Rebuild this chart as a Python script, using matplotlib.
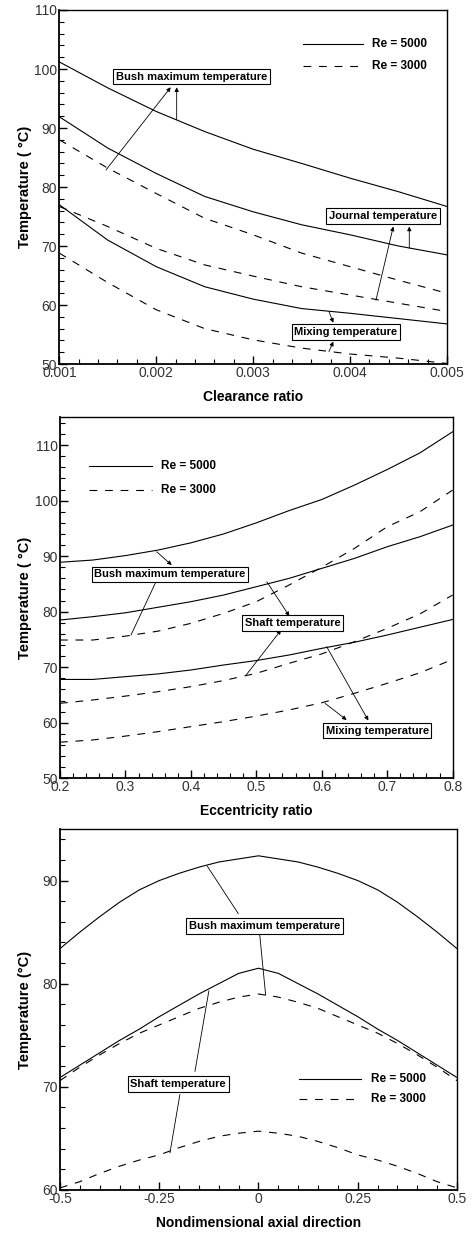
import numpy as np
import matplotlib
matplotlib.use("Agg")
import matplotlib.pyplot as plt
from matplotlib.ticker import MultipleLocator, FormatStrFormatter

# initial settings
plt.rcParams['font.family'] = ['Liberation Sans', 'DejaVu Sans']
plt.rcParams['axes.linewidth'] = 1.0

#---------------------------------------------------------------------------------------------------
# panel 1 : clearance ratio
c_ratio = [0.001, 0.0015, 0.002, 0.0025, 0.003, 0.0035, 0.004, 0.0045, 0.005]
c_bush_5000 = [101.2, 96.8, 92.8, 89.4, 86.4, 84.0, 81.5, 79.2, 76.7]
c_bush_3000 = [88.0, 83.2, 78.9, 74.7, 71.9, 68.8, 66.5, 64.2, 62.0]
c_journal_5000 = [91.9, 86.6, 82.3, 78.4, 75.8, 73.6, 71.9, 70.0, 68.5]
c_journal_3000 = [76.7, 73.3, 69.6, 66.8, 64.9, 63.1, 61.7, 60.3, 58.9]
c_mix_5000 = [77.0, 71.0, 66.5, 63.1, 61.0, 59.4, 58.6, 57.7, 56.8]
c_mix_3000 = [68.8, 63.8, 59.2, 56.0, 54.1, 52.7, 51.7, 51.0, 50.1]

# panel 2 : eccentricity ratio
e_ratio = [0.2, 0.25, 0.3, 0.35, 0.4, 0.45, 0.5, 0.55, 0.6, 0.65, 0.7, 0.75, 0.8]
e_bush_5000 = [88.9, 89.3, 90.1, 91.1, 92.4, 94.0, 96.0, 98.2, 100.2, 102.8, 105.6, 108.6, 112.4]
e_bush_3000 = [74.9, 74.9, 75.6, 76.5, 77.9, 79.7, 81.8, 84.8, 88.0, 91.4, 95.3, 98.0, 101.9]
e_shaft_5000 = [78.5, 79.1, 79.8, 80.8, 81.8, 83.0, 84.5, 86.0, 87.8, 89.6, 91.7, 93.5, 95.6]
e_shaft_3000 = [63.5, 64.1, 64.8, 65.6, 66.5, 67.6, 68.9, 70.7, 72.4, 74.6, 77.0, 79.6, 83.0]
e_mix_5000 = [67.8, 67.8, 68.3, 68.8, 69.5, 70.4, 71.2, 72.2, 73.4, 74.5, 75.8, 77.2, 78.6]
e_mix_3000 = [56.5, 56.9, 57.6, 58.4, 59.3, 60.2, 61.2, 62.3, 63.6, 65.3, 67.1, 69.0, 71.4]

# panel 3 : axial direction
z_axial = [-0.5, -0.45, -0.4, -0.35, -0.3, -0.25, -0.2, -0.15, -0.1, -0.05, 0.0,
           0.05, 0.1, 0.15, 0.2, 0.25, 0.3, 0.35, 0.4, 0.45, 0.5]
z_bush_5000 = [83.4, 85.0, 86.5, 87.9, 89.1, 90.0, 90.7, 91.3, 91.8, 92.1, 92.4,
               92.1, 91.8, 91.3, 90.7, 90.0, 89.1, 87.9, 86.5, 85.0, 83.4]
z_bush_3000 = [70.6, 71.9, 73.1, 74.2, 75.2, 76.0, 76.8, 77.6, 78.2, 78.7, 79.0,
               78.7, 78.2, 77.6, 76.8, 76.0, 75.2, 74.2, 73.1, 71.9, 70.6]
z_shaft_5000 = [70.9, 72.1, 73.3, 74.5, 75.6, 76.8, 77.9, 79.0, 80.0, 81.0, 81.5,
                81.0, 80.0, 79.0, 77.9, 76.8, 75.6, 74.5, 73.3, 72.1, 70.9]
z_shaft_3000 = [60.2, 60.8, 61.6, 62.3, 62.9, 63.4, 64.1, 64.7, 65.2, 65.5, 65.7,
                65.5, 65.2, 64.7, 64.1, 63.4, 62.9, 62.3, 61.6, 60.8, 60.2]

# label boxes: (text, x, y) and leader lines: (x_line, y_line, x_box, y_box)
c_labels = [("Bush maximum temperature", 0.002365, 98.7),
            ("Journal temperature", 0.004343, 75.1),
            ("Mixing temperature", 0.003958, 55.4)]
c_leaders = [(0.002211, 91.4, 0.002211, 96.9), (0.001482, 82.9, 0.002149, 96.9),
             (0.004611, 69.6, 0.004611, 73.3), (0.004267, 60.8, 0.004446, 73.3),
             (0.003782, 58.9, 0.003827, 57.0), (0.003782, 52.1, 0.003827, 53.8)]
e_labels = [("Bush maximum temperature", 0.368, 86.7),
            ("Shaft temperature", 0.5556, 78.0),
            ("Mixing temperature", 0.6845, 58.6)]
e_leaders = [(0.3477, 90.8, 0.3707, 88.4), (0.3085, 75.8, 0.3503, 86.3),
             (0.516, 85.4, 0.5505, 79.2), (0.4838, 68.5, 0.5378, 76.7),
             (0.6075, 73.7, 0.6712, 60.4), (0.605, 63.5, 0.638, 60.5)]
z_labels = [("Bush maximum temperature", 0.016, 85.6),
            ("Shaft temperature", -0.202, 70.3)]
z_leaders = [(-0.129, 91.4, -0.051, 86.8), (0.018, 78.9, 0.003, 84.8),
             (-0.125, 79.3, -0.160, 71.5), (-0.223, 63.6, -0.198, 69.25)]

# legend positions: x start, x end, y solid, y dashed
c_legend = (0.003518, 0.00413, 104.2, 100.5)
e_legend = (0.245, 0.340, 106.2, 101.9)
z_legend = (0.102, 0.259, 70.8, 68.8)

#---------------------------------------------------------------------------------------------------
W, H = 473, 1234
solid = dict(color='k', lw=0.8)
dashed = dict(color='k', lw=0.8, linestyle=(0, (7, 7)))
box = dict(boxstyle='square,pad=0.25', fc='white', ec='k', lw=0.8)


def style_axis(ax, rect, xlabel, ylabel, xmaj, xmin, ymaj, ymin, xfmt):
    ax.xaxis.set_major_locator(MultipleLocator(xmaj))
    ax.xaxis.set_minor_locator(MultipleLocator(xmin))
    ax.yaxis.set_major_locator(MultipleLocator(ymaj))
    ax.yaxis.set_minor_locator(MultipleLocator(ymin))
    ax.xaxis.set_major_formatter(FormatStrFormatter(xfmt))
    ax.tick_params(which='both', direction='in', top=False, right=False,
                   labelsize=10, labelcolor='#333333', pad=1.5)
    ax.tick_params(which='major', length=6, width=1.0)
    ax.tick_params(which='minor', length=3.5, width=0.8)
    ax.spines['left'].set_linewidth(1.3)
    ax.spines['bottom'].set_linewidth(1.3)
    ax.set_xlabel(xlabel, fontsize=10, fontweight='bold')
    ax.set_ylabel(ylabel, fontsize=10.5, fontweight='bold')
    # put the axis titles at the same pixel distance as the reference
    left, bottom, width, height = rect
    ax.yaxis.set_label_coords((32.0 / W - left) / width, 0.5)
    ax.xaxis.set_label_coords(0.5, -(26.0 / H) / height)


def draw_labels(ax, labels, leaders, heads=True):
    for x0, y0, x1, y1 in leaders:
        if heads:
            ax.annotate('', xy=(x1, y1), xytext=(x0, y0),
                        arrowprops=dict(arrowstyle='-|>', lw=0.6, color='k',
                                        mutation_scale=6, shrinkA=0, shrinkB=0))
        else:
            ax.plot([x0, x1], [y0, y1], color='k', lw=0.6)
    for text, x, y in labels:
        ax.text(x, y, text, fontsize=8, fontweight='bold', ha='center', va='center',
                bbox=box, zorder=5)


def draw_legend(ax, leg):
    x0, x1, ys, yd = leg
    ax.plot([x0, x1], [ys, ys], **solid)
    ax.plot([x0, x1], [yd, yd], **dashed)
    dx = (x1 - x0) * 0.15
    ax.text(x1 + dx, ys, "Re = 5000", fontsize=8.5, fontweight='bold', va='center')
    ax.text(x1 + dx, yd, "Re = 3000", fontsize=8.5, fontweight='bold', va='center')


fig = plt.figure(figsize=(W / 100, H / 100), dpi=100)

# top panel
r1 = [0.1254, 0.705, 0.8196, 0.2869]
ax1 = fig.add_axes(r1)
ax1.plot(c_ratio, c_bush_5000, **solid)
ax1.plot(c_ratio, c_journal_5000, **solid)
ax1.plot(c_ratio, c_mix_5000, **solid)
ax1.plot(c_ratio, c_bush_3000, **dashed)
ax1.plot(c_ratio, c_journal_3000, **dashed)
ax1.plot(c_ratio, c_mix_3000, **dashed)
ax1.set_xlim(0.001, 0.005)
ax1.set_ylim(50, 110)
style_axis(ax1, r1, "Clearance ratio", "Temperature ( °C)", 0.001, 0.0002, 10, 2, '%.3f')
draw_labels(ax1, c_labels, c_leaders)
draw_legend(ax1, c_legend)

# middle panel
r2 = [0.1268, 0.3693, 0.8302, 0.2925]
ax2 = fig.add_axes(r2)
ax2.plot(e_ratio, e_bush_5000, **solid)
ax2.plot(e_ratio, e_shaft_5000, **solid)
ax2.plot(e_ratio, e_mix_5000, **solid)
ax2.plot(e_ratio, e_bush_3000, **dashed)
ax2.plot(e_ratio, e_shaft_3000, **dashed)
ax2.plot(e_ratio, e_mix_3000, **dashed)
ax2.set_xlim(0.2, 0.8)
ax2.set_ylim(50, 115)
style_axis(ax2, r2, "Eccentricity ratio", "Temperature ( °C)", 0.1, 0.02, 10, 2, '%.1f')
draw_labels(ax2, e_labels, e_leaders)
draw_legend(ax2, e_legend)

# bottom panel
r3 = [0.1268, 0.0357, 0.8394, 0.2925]
ax3 = fig.add_axes(r3)
ax3.plot(z_axial, z_bush_5000, **solid)
ax3.plot(z_axial, z_shaft_5000, **solid)
ax3.plot(z_axial, z_bush_3000, **dashed)
ax3.plot(z_axial, z_shaft_3000, **dashed)
ax3.set_xlim(-0.5, 0.5)
ax3.set_ylim(60, 95)
style_axis(ax3, r3, "Nondimensional axial direction", "Temperature (°C)", 0.25, 0.05, 10, 2, '%g')
draw_labels(ax3, z_labels, z_leaders, heads=False)
draw_legend(ax3, z_legend)

fig.savefig("out.png", dpi=100)
